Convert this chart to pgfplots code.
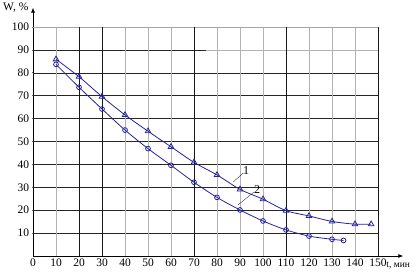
\documentclass[border=0pt]{standalone}
\usepackage{fontspec}
\setmainfont{Liberation Serif}
\usepackage{pgfplots}
\pgfplotsset{compat=1.18}
\usetikzlibrary{arrows.meta}
\definecolor{curve}{RGB}{35,35,160}
\definecolor{tickg}{RGB}{40,140,90}
\begin{document}
\begin{tikzpicture}
\begin{axis}[
  x=2.3pt, y=2.29pt,
  xmin=0, xmax=161, ymin=0, ymax=108.5,
  axis x line=bottom, axis y line=left,
  axis line style={thick, -{Latex[length=5pt,width=4pt]}},
  xtick={0,10,...,150}, ytick={10,20,...,100},
  tick style={tickg, thick},
  major tick length=2.5pt,
  tick align=center,
  clip=false,
  font=\fontsize{11.5}{13}\selectfont,
  /pgf/number format/assume math mode=true,
  xticklabel style={yshift=1.5pt},
  yticklabel style={xshift=1pt},
]
\coordinate (o) at (axis cs:0,0);
% grid
\pgfplotsinvokeforeach{10,20,...,90}{\draw[black!85, line width=0.6pt] (axis cs:0,#1) -- (axis cs:150,#1);}
\draw[gray!70, line width=0.7pt] (axis cs:0,100) -- (axis cs:150,100);
\draw[gray!60, line width=0.7pt] (axis cs:75,90) -- (axis cs:150,90);
\pgfplotsinvokeforeach{10,40,50,60,80,90,100,120,130,140}{\draw[gray!60, line width=0.8pt] (axis cs:#1,0) -- (axis cs:#1,100);}
\pgfplotsinvokeforeach{20,30,70,110,150}{\draw[black!90, line width=0.7pt] (axis cs:#1,0) -- (axis cs:#1,100);}
% curve 1
\addplot[curve, thick, smooth, mark=triangle, mark size=3.2pt, mark options={solid, thick}] coordinates {
 (10,85.9) (20,78.3) (30,69.6) (40,61.6) (50,54.5) (60,47.7) (70,40.9) (80,35.4) (90,29.1) (100,24.8) (110,19.8) (120,17.5) (130,15.1) (140,13.9) (147,13.9)};
% curve 2
\addplot[curve, thick, smooth, mark=o, mark size=2.4pt, mark options={solid, thick}] coordinates {
 (10,83.7) (20,73.7) (30,64.2) (40,55.0) (50,46.9) (60,39.6) (70,32.2) (80,25.6) (90,20.1) (100,15.3) (110,11.4) (120,8.7) (130,7.3) (135,6.8)};
% labels
\draw[black!80] (axis cs:87,32.3) -- (axis cs:91.5,36.3);
\node[anchor=south west, inner sep=0pt, font=\fontsize{12}{13}\selectfont] at (axis cs:91.3,35.5) {1};
\draw[black!80] (axis cs:89.1,22.3) -- (axis cs:96,27.9);
\node[anchor=south west, inner sep=0pt, font=\fontsize{12}{13}\selectfont] at (axis cs:96,27.2) {2};
\node[anchor=east, inner sep=1pt] at (axis cs:-1.5,108.3) {W, \%};
\node[anchor=west, inner sep=0pt, font=\fontsize{9.5}{11}\selectfont] at (axis cs:153.6,-4.3) {t, мин};
\end{axis}
\pgfresetboundingbox
\path ([shift={(-33pt,-18pt)}]o) rectangle ([shift={(386pt,256pt)}]o);
\end{tikzpicture}
\end{document}
